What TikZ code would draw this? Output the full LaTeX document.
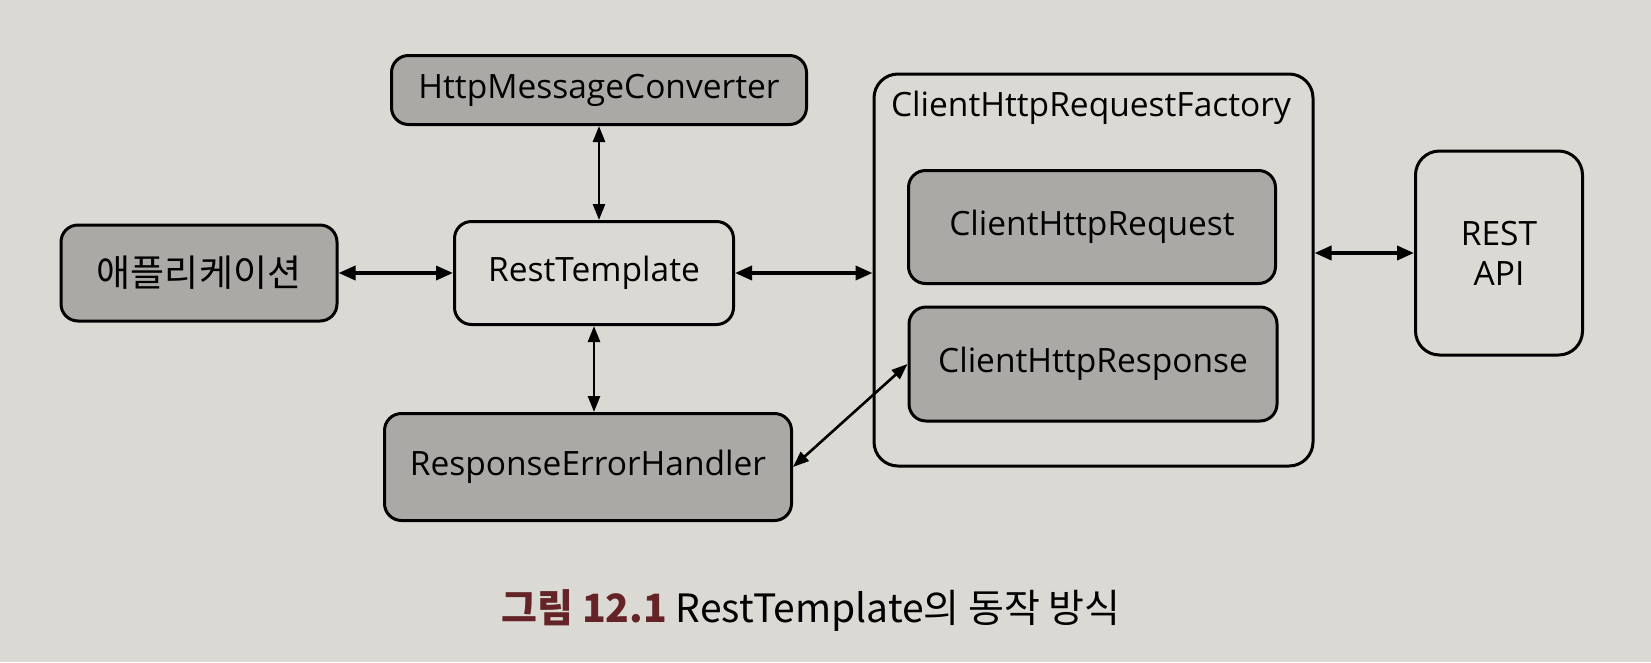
\documentclass[tikz,border=0pt]{standalone}
\usepackage{fontspec}
\setmainfont{Open Sans}
\newfontfamily\kr{Noto Sans CJK KR}
\usetikzlibrary{arrows.meta,calc}
\definecolor{paper}{RGB}{219,217,212}
\definecolor{boxgrey}{RGB}{170,169,166}
\definecolor{capred}{RGB}{100,35,38}
\tikzset{
  box/.style={draw=black, line width=3pt, rounded corners=17pt, align=center,
    font=\fontsize{33.5}{40}\selectfont, inner sep=0pt},
  greybox/.style={box, fill=boxgrey},
  whitebox/.style={box, fill=paper},
  link/.style={{Triangle[length=17pt,width=14pt]}-{Triangle[length=17pt,width=14pt]}, line width=3.6pt},
  vlink/.style={{Triangle[length=16pt,width=12pt]}-{Triangle[length=16pt,width=12pt]}, line width=2.6pt},
}
\begin{document}
\begin{tikzpicture}[x=1pt,y=-1pt]
\fill[paper] (0,0) rectangle (1651,662);
\useasboundingbox (0,0) rectangle (1651,662);

\node[greybox, minimum width=415pt, minimum height=69pt] (hmc) at (599,90) {HttpMessageConverter};
\node[whitebox, minimum width=279pt, minimum height=103pt] (rt) at (594,273) {RestTemplate};
\node[greybox, minimum width=276pt, minimum height=96pt] (app) at (199,273) {\kr\fontsize{37}{42}\selectfont 애플리케이션};
\node[greybox, minimum width=407pt, minimum height=107pt] (reh) at (588,467) {ResponseErrorHandler};

\node[whitebox, minimum width=439pt, minimum height=392pt, rounded corners=24pt] (fac) at (1093.5,270) {};
\node[font=\fontsize{33.5}{40}\selectfont, inner sep=0pt] (faclabel) at (1091,108) {ClientHttpRequestFactory};
\node[greybox, minimum width=367pt, minimum height=113pt] (req) at (1092,227) {ClientHttpRequest};
\node[greybox, minimum width=368pt, minimum height=114pt] (resp) at (1093,364) {ClientHttpResponse};

\node[whitebox, minimum width=167pt, minimum height=204pt, rounded corners=24pt] (api) at (1499,253) {REST\\API};

\draw[link] (app.east) -- (app.east -| rt.west);
\draw[link] (rt.east) -- (rt.east -| fac.west);
\draw[vlink] (hmc.south) -- (hmc.south |- rt.north);
\draw[vlink] (rt.south) -- (rt.south |- reh.north);
\draw[vlink] (reh.east) -- (resp.west);
\draw[link] (api.west -| fac.east) -- (api.west);

\node[inner sep=0pt, anchor=base] (cap) at (811,622) {\kr\fontsize{39}{46}\selectfont{\bfseries\color{capred}그림 12.1} RestTemplate의 동작 방식};
\end{tikzpicture}
\end{document}
